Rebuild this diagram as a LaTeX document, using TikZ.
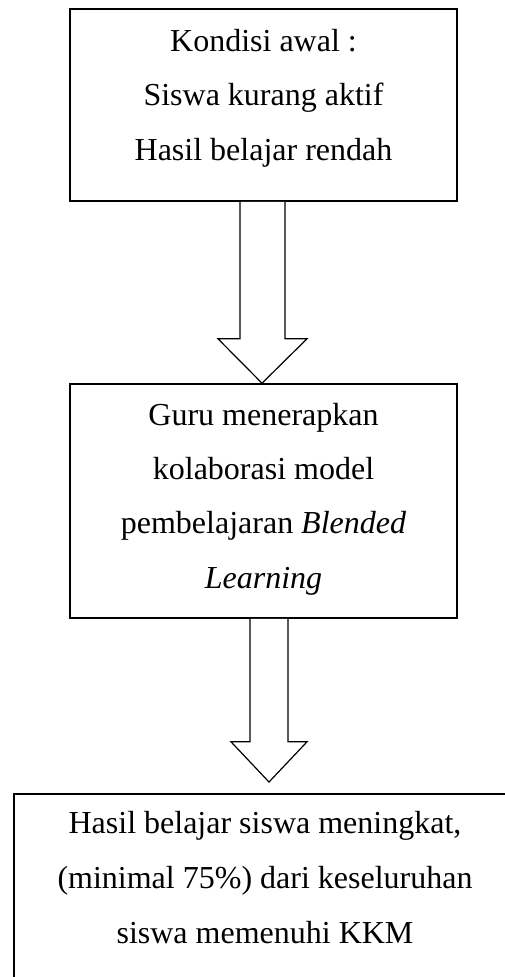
\documentclass[tikz,border=0pt]{standalone}
\usepackage{fontspec}
\setmainfont{Liberation Serif}
\usetikzlibrary{calc}
\tikzset{
  boxnode/.style={draw=black, line width=1.6pt, rectangle, inner sep=0pt},
  txt/.style={inner sep=0pt, anchor=base, font=\fontsize{32}{54}\selectfont},
  blockarrow/.style={draw=black, line width=1.2pt, line join=miter, fill=white}
}
\begin{document}
\begin{tikzpicture}[x=1pt,y=-1pt]
\useasboundingbox (0,0) rectangle (505,977);
\clip (0,0) rectangle (505,977);
% boxes
\node[boxnode, minimum width=387pt, minimum height=192pt] (b1) at (263.5,105) {};
\node[boxnode, minimum width=387pt, minimum height=234pt] (b2) at (263.5,501) {};
\node[boxnode, minimum width=507pt, minimum height=200pt, anchor=north west] (b3) at (13,793) {};
% texts
\node[txt] (t1a) at (263.5,51) {Kondisi awal :};
\node[txt] (t1b) at (263.5,105) {Siswa kurang aktif};
\node[txt] (t1c) at (263.5,160) {Hasil belajar rendah};
\node[txt] (t2a) at (263.5,425) {Guru menerapkan};
\node[txt] (t2b) at (263.5,479) {kolaborasi model};
\node[txt] (t2c) at (263.5,533) {pembelajaran \textit{Blended}};
\node[txt] (t2d) at (263.5,588) {\textit{Learning}};
\node[txt] (t3a) at (265,833) {Hasil belajar siswa meningkat,};
\node[txt] (t3b) at (265,888) {(minimal 75\%) dari keseluruhan};
\node[txt] (t3c) at (265,943) {siswa memenuhi KKM};
% arrow 1
\coordinate (a1l) at ($(b1.south)+(-23.5,0)$);
\coordinate (a1r) at ($(b1.south)+(21.5,0)$);
\coordinate (a1tip) at ($(b2.north)+(-1.5,0)$);
\draw[blockarrow] (a1l) -- ($(a1l)+(0,137)$) -- ($(a1l)+(-22,137)$) -- (a1tip)
  -- ($(a1r)+(22,137)$) -- ($(a1r)+(0,137)$) -- (a1r);
% arrow 2
\coordinate (a2l) at ($(b2.south)+(-13.5,0)$);
\coordinate (a2r) at ($(b2.south)+(24.5,0)$);
\coordinate (a2tip) at ($(b3.north west)+(256,-11)$);
\draw[blockarrow] (a2l) -- ($(a2l)+(0,123)$) -- ($(a2l)+(-19,123)$) -- (a2tip)
  -- ($(a2r)+(19,123)$) -- ($(a2r)+(0,123)$) -- (a2r);
\end{tikzpicture}
\end{document}
